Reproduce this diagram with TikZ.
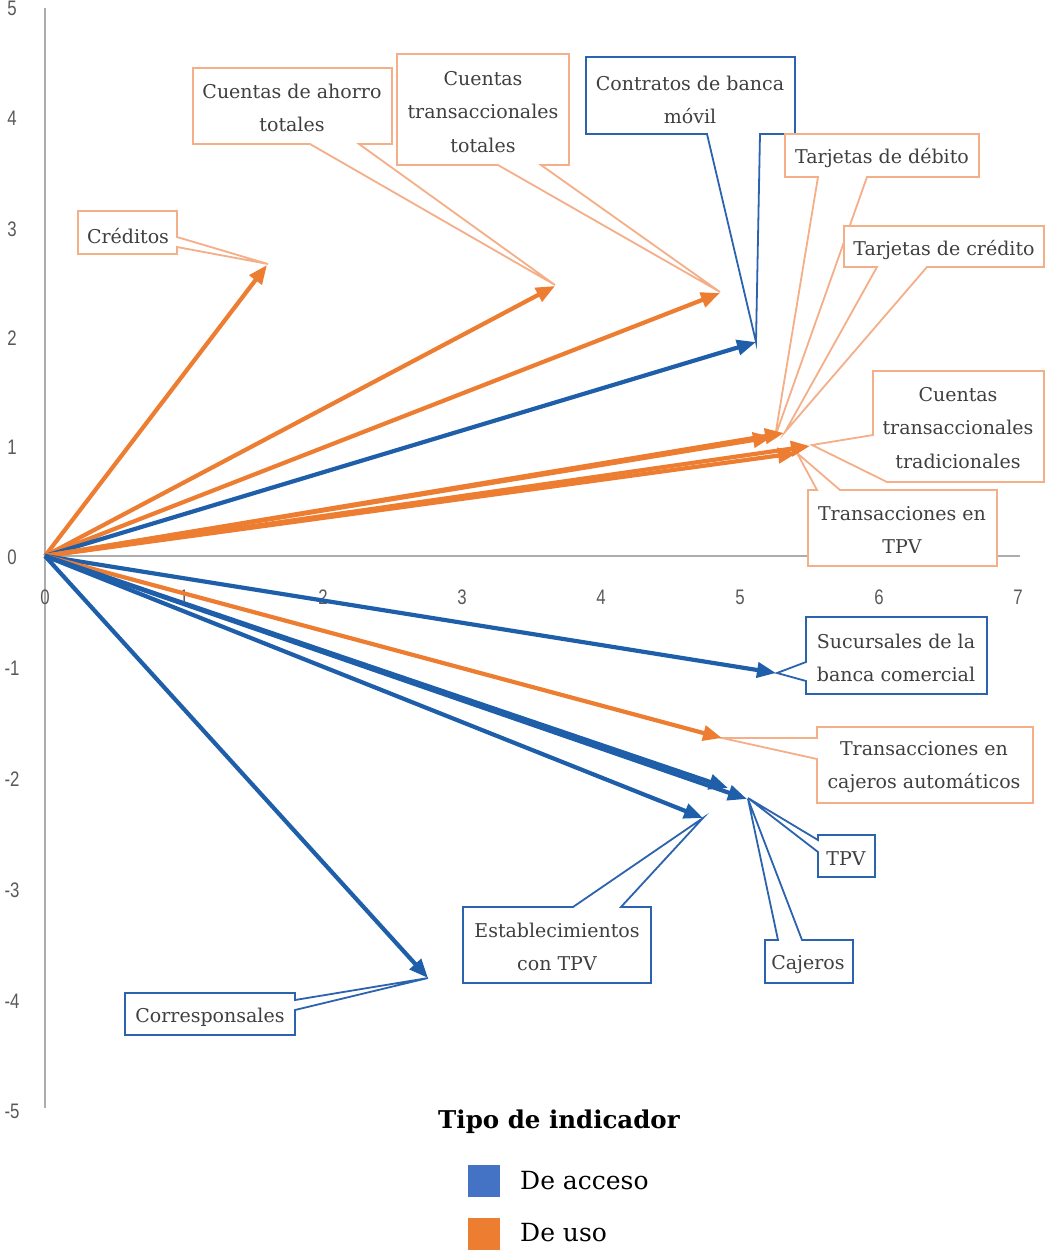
\documentclass[tikz,border=0pt]{standalone}
\usepackage{fontspec}
\usepackage{graphicx}
\setmainfont{DejaVu Serif}
\setsansfont{Liberation Sans}
\usetikzlibrary{arrows.meta}
\definecolor{aorange}{HTML}{ED7D31}
\definecolor{ablue}{HTML}{1F5FAA}
\definecolor{corange}{HTML}{F4AE88}
\definecolor{cblue}{HTML}{2C63AE}
\definecolor{legblue}{HTML}{4472C4}
\definecolor{legorange}{HTML}{ED7D31}
\definecolor{axisgray}{HTML}{ADADAD}
\definecolor{tickgray}{HTML}{595959}
\definecolor{labelgray}{HTML}{3F3F3F}
\begin{document}
\begin{tikzpicture}[x=1pt,y=-1pt,
  accbox/.style={draw=cblue,line width=1.8pt,fill=white,line join=miter},
  usobox/.style={draw=corange,line width=1.8pt,fill=white,line join=miter},
  lbl/.style={align=center,text=labelgray,inner sep=0pt,font=\fontsize{19}{33.5}\selectfont},
  tick/.style={text=tickgray,inner sep=0pt,font=\sffamily\fontsize{21}{24}\selectfont},
  arrO/.style={draw=aorange,line width=4.2pt,-{Triangle[length=19pt,width=15pt]}},
  arrB/.style={draw=ablue,line width=4.2pt,-{Triangle[length=19pt,width=15pt]}},
  legsq/.style={minimum size=32pt,inner sep=0pt,draw=none}
]
\useasboundingbox (0,0) rectangle (1045,1251);

% axes
\coordinate (O) at (45,556);
\coordinate (ytop) at (45,8);
\coordinate (ybot) at (45,1108);
\coordinate (xend) at (1020,556);
\draw[axisgray,line width=1.8pt] (ytop) -- (ybot);
\draw[axisgray,line width=1.8pt] (O) -- (xend);

% tick labels
\foreach \v/\yy in {5/8,4/118,3/229,2/338,1/447,0/557,-1/668,-2/779,-3/890,-4/1001,-5/1111}
  \node[tick] (yt\v) at (12,\yy) {\scalebox{0.8}[1]{\v}};
\foreach \v in {0,...,7}
  \node[tick] (xt\v) at ({45+139*\v},597) {\scalebox{0.8}[1]{\v}};

% arrow tips
\coordinate (tCred) at (267,265);
\coordinate (tAho) at (555,286);
\coordinate (tTot) at (720,293);
\coordinate (tDeb) at (772,437);
\coordinate (tCre) at (784,433);
\coordinate (tTrad) at (810,446);
\coordinate (tTPVo) at (797,453);
\coordinate (tCajA) at (722,738);
\coordinate (tMov) at (756,342);
\coordinate (tSuc) at (776,673);
\coordinate (tTPVb) at (728,788);
\coordinate (tCaje) at (747,799);
\coordinate (tEst) at (703,818);
\coordinate (tCorr) at (428,978);

% callout shapes
\draw[usobox] (78,211) -- (177,211) -- (177,237) -- (268,264) -- (177,247) -- (177,254) -- (78,254) -- cycle;
\draw[usobox] (193,68) -- (392,68) -- (392,144) -- (359,144) -- (555,285) -- (310,144) -- (193,144) -- cycle;
\draw[usobox] (397,54) -- (569,54) -- (569,165) -- (541,165) -- (720,292) -- (498,165) -- (397,165) -- cycle;
\draw[accbox] (586,57) -- (795,57) -- (795,134) -- (760,134) -- (756,342) -- (707,134) -- (586,134) -- cycle;
\draw[usobox] (785,134) -- (979,134) -- (979,177) -- (867,177) -- (775,437) -- (818,177) -- (785,177) -- cycle;
\draw[usobox] (844,226) -- (1044,226) -- (1044,267) -- (927,267) -- (785,432) -- (877,267) -- (844,267) -- cycle;
\draw[usobox] (873,371) -- (1044,371) -- (1044,482) -- (887,482) -- (812,445) -- (873,435) -- cycle;
\draw[usobox] (808,490) -- (817,490) -- (797,453) -- (840,490) -- (997,490) -- (997,566) -- (808,566) -- cycle;
\draw[accbox] (806,617) -- (987,617) -- (987,694) -- (806,694) -- (806,681) -- (777,673) -- (806,662) -- cycle;
\draw[usobox] (817,727) -- (1033,727) -- (1033,803) -- (817,803) -- (817,759) -- (722,738) -- (817,738) -- cycle;
\draw[accbox] (818,835) -- (875,835) -- (875,877) -- (818,877) -- (818,852) -- (748,798) -- (818,840) -- cycle;
\draw[accbox] (765,940) -- (778,940) -- (748,799) -- (802,940) -- (853,940) -- (853,983) -- (765,983) -- cycle;
\draw[accbox] (463,907) -- (573,907) -- (703,818) -- (621,907) -- (651,907) -- (651,983) -- (463,983) -- cycle;
\draw[accbox] (125,993) -- (295,993) -- (295,1000) -- (428,978) -- (295,1010) -- (295,1035) -- (125,1035) -- cycle;

% callout texts
\node[lbl] (lCred) at (128,236) {Créditos};
\node[lbl] (lAho) at (292,108) {Cuentas de ahorro\\totales};
\node[lbl] (lTot) at (483,112) {Cuentas\\transaccionales\\totales};
\node[lbl] (lMov) at (690,100) {Contratos de banca\\móvil};
\node[lbl] (lDeb) at (882,158) {Tarjetas de débito};
\node[lbl] (lCre) at (944,250) {Tarjetas de crédito};
\node[lbl] (lTrad) at (958,428) {Cuentas\\transaccionales\\tradicionales};
\node[lbl] (lTPVo) at (902,530) {Transacciones en\\TPV};
\node[lbl] (lSuc) at (896,658) {Sucursales de la\\banca comercial};
\node[lbl] (lCajA) at (924,767) {Transacciones en\\cajeros automáticos};
\node[lbl] (lTPVb) at (846,859) {TPV};
\node[lbl] (lCaje) at (808,965) {Cajeros};
\node[lbl] (lEst) at (557,947) {Establecimientos\\con TPV};
\node[lbl] (lCorr) at (210,1017) {Corresponsales};

% arrows
\draw[arrO] (O) -- (tCred);
\draw[arrO] (O) -- (tAho);
\draw[arrO] (O) -- (tTot);
\draw[arrB] (O) -- (tMov);
\draw[arrO] (O) -- (tDeb);
\draw[arrO] (O) -- (tCre);
\draw[arrO] (O) -- (tTrad);
\draw[arrO] (O) -- (tTPVo);
\draw[arrB] (O) -- (tSuc);
\draw[arrO] (O) -- (tCajA);
\draw[arrB] (O) -- (tTPVb);
\draw[arrB] (O) -- (tCaje);
\draw[arrB] (O) -- (tEst);
\draw[arrB] (O) -- (tCorr);

% legend
\node[font=\bfseries\fontsize{24.5}{28}\selectfont,text=black,inner sep=0pt] (legT) at (559,1122) {Tipo de indicador};
\node[legsq,fill=legblue] (sqA) at (484,1181) {};
\node[legsq,fill=legorange] (sqU) at (484,1234) {};
\node[anchor=west,inner sep=0pt,text=black,font=\fontsize{25}{28}\selectfont] (legA) at (520,1181) {De acceso};
\node[anchor=west,inner sep=0pt,text=black,font=\fontsize{25}{28}\selectfont] (legU) at (520,1233) {De uso};
\end{tikzpicture}
\end{document}
